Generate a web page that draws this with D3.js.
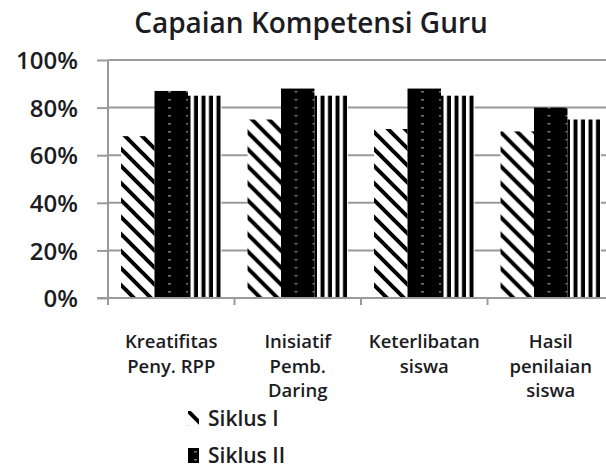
<!DOCTYPE html>
<html>
<head>
<meta charset="utf-8">
<script src="https://cdn.jsdelivr.net/npm/d3@7"></script>
<style>
  body { margin: 0; background: #fff; }
  text { font-family: "Open Sans", "DejaVu Sans", sans-serif; fill: #1c1c22; }
</style>
</head>
<body>
<script>
// Chart data

const categories = [
  ["Kreatifitas", "Peny. RPP"],
  ["Inisiatif", "Pemb.", "Daring"],
  ["Keterlibatan", "siswa"],
  ["Hasil", "penilaian", "siswa"]
];
const seriesNames = ["Siklus I", "Siklus II", "Siklus III"];
const siklus1 = [0.68, 0.75, 0.71, 0.70];
const siklus2 = [0.87, 0.88, 0.88, 0.80];
const siklus3 = [0.85, 0.85, 0.85, 0.75];
const yTicks = [0, 0.2, 0.4, 0.6, 0.8, 1.0];

const width = 606;
const height = 468;

let svg = d3.select("body")
    .append("svg")
    .attr("width", width)
    .attr("height", height);

// fill patterns, one per series
let defs = svg.append("defs");

let hatch = defs.append("pattern")
    .attr("id", "hatch")
    .attr("patternUnits", "userSpaceOnUse")
    .attr("width", 17)
    .attr("height", 17);
hatch.append("rect").attr("width", 17).attr("height", 17).attr("fill", "#fff");
hatch.append("path")
    .attr("d", "M-4,-4L21,21M-4,13L4,21M13,-4L21,4")
    .attr("stroke", "#000")
    .attr("stroke-width", 4);

let dots = defs.append("pattern")
    .attr("id", "dots")
    .attr("patternUnits", "userSpaceOnUse")
    .attr("width", 18)
    .attr("height", 8);
dots.append("rect").attr("width", 18).attr("height", 8).attr("fill", "#000");
dots.append("rect").attr("x", 6).attr("y", 3).attr("width", 3).attr("height", 1.5).attr("fill", "#777");

let stripes = defs.append("pattern")
    .attr("id", "stripes")
    .attr("patternUnits", "userSpaceOnUse")
    .attr("width", 7.5)
    .attr("height", 10);
stripes.append("rect").attr("width", 7.5).attr("height", 10).attr("fill", "#fff");
stripes.append("rect").attr("x", 3.5).attr("width", 4).attr("height", 10).attr("fill", "#000");

const fills = ["url(#hatch)", "url(#dots)", "url(#stripes)"];

// scales
let x0 = d3.scaleBand()
    .domain(d3.range(categories.length))
    .range([108, 614])
    .paddingInner(0)
    .paddingOuter(0);

let x1 = d3.scaleBand()
    .domain(d3.range(seriesNames.length))
    .range([0, x0.bandwidth()])
    .paddingInner(0)
    .paddingOuter(0.39);

let y = d3.scaleLinear()
    .domain([0, 1])
    .range([298, 60]);

// gridlines + y axis
let yAxis = svg.append("g")
    .attr("transform", "translate(108,0)")
    .call(d3.axisLeft(y)
      .tickValues(yTicks)
      .tickSize(11)
      .tickFormat(d3.format(".0%")));

yAxis.select(".domain").remove();
yAxis.selectAll(".tick line").attr("stroke", "#9a9a9a").attr("stroke-width", 2);
yAxis.selectAll(".tick text")
    .attr("x", -30)
    .attr("dy", "0.36em")
    .style("font-size", "24px")
    .style("font-weight", 600);

svg.append("g")
    .selectAll("line")
    .data(yTicks.filter(d => d > 0))
    .join("line")
      .attr("x1", 108)
      .attr("x2", width)
      .attr("y1", d => y(d))
      .attr("y2", d => y(d))
      .attr("stroke", "#9a9a9a")
      .attr("stroke-width", 2);

svg.append("line")
    .attr("x1", 108).attr("x2", 108)
    .attr("y1", 60).attr("y2", 305)
    .attr("stroke", "#9a9a9a")
    .attr("stroke-width", 2);

// bars
const allSeries = [siklus1, siklus2, siklus3];

let groups = svg.append("g")
    .selectAll("g")
    .data(categories)
    .join("g")
      .attr("transform", (d, i) => "translate(" + x0(i) + ",0)");

groups.selectAll("rect")
    .data((d, i) => allSeries.map((s, k) => ({k: k, v: s[i]})))
    .join("rect")
      .attr("x", d => x1(d.k))
      .attr("y", d => y(d.v))
      .attr("width", x1.bandwidth())
      .attr("height", d => y(0) - y(d.v))
      .attr("fill", d => fills[d.k]);

// x axis
let xAxis = svg.append("g")
    .attr("transform", "translate(0,298)");

xAxis.append("line")
    .attr("x1", 97).attr("x2", width)
    .attr("stroke", "#9a9a9a")
    .attr("stroke-width", 2);

xAxis.selectAll(".xtick")
    .data(d3.range(categories.length))
    .join("line")
      .attr("class", "xtick")
      .attr("x1", d => x0(d)).attr("x2", d => x0(d))
      .attr("y1", 0).attr("y2", 7)
      .attr("stroke", "#9a9a9a")
      .attr("stroke-width", 2);

xAxis.selectAll(".xlabel")
    .data(categories)
    .join("text")
      .attr("class", "xlabel")
      .attr("text-anchor", "middle")
      .style("font-size", "18.5px")
      .style("font-weight", 600)
      .each(function (lines, i) {
        d3.select(this).selectAll("tspan")
          .data(lines)
          .join("tspan")
            .attr("x", x0(i) + x0.bandwidth() / 2)
            .attr("y", (d, j) => 50 + j * 24.5)
            .text(d => d);
      });

// title
svg.append("text")
    .attr("x", 311)
    .attr("y", 33)
    .attr("text-anchor", "middle")
    .style("font-size", "28px")
    .style("font-weight", 600)
    .text("Capaian Kompetensi Guru");

// legend (only first two entries are visible in the picture)
let legend = svg.append("g")
    .selectAll("g")
    .data(seriesNames.slice(0, 2))
    .join("g")
      .attr("transform", (d, i) => "translate(188," + (411 + i * 37) + ")");

legend.append("rect")
    .attr("width", 11)
    .attr("height", 15)
    .attr("fill", (d, i) => fills[i]);

legend.append("text")
    .attr("x", 20)
    .attr("y", 15)
    .style("font-size", "21px")
    .style("font-weight", 600)
    .text(d => d);
</script>
</body>
</html>
